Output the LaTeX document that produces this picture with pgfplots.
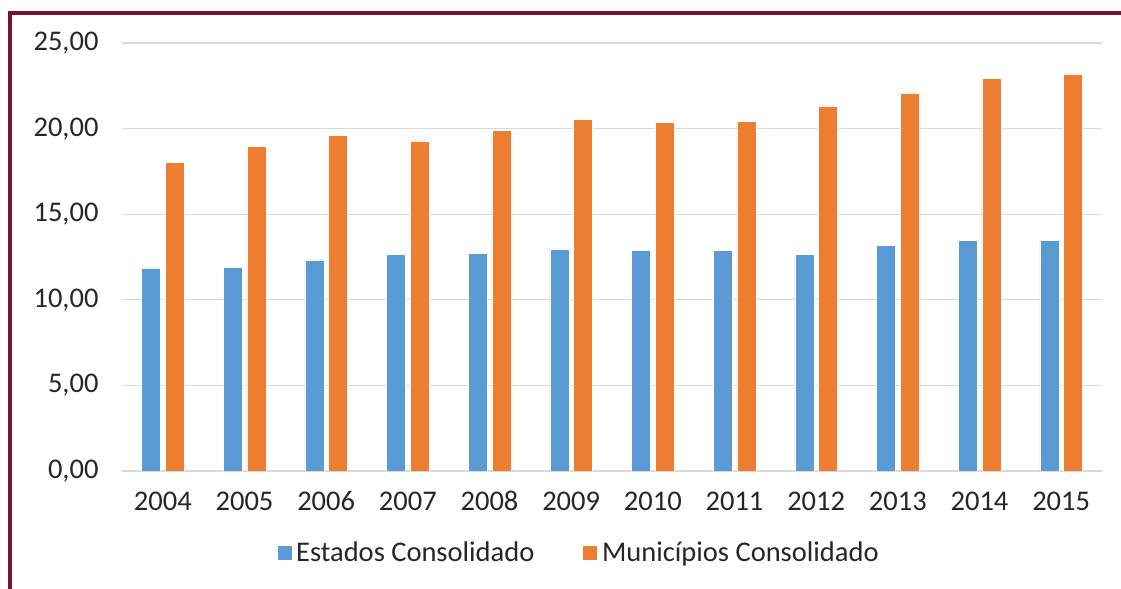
\documentclass[border=0pt]{standalone}
\usepackage{fontspec}
\setmainfont{Carlito}
\usepackage{pgfplots}
\pgfplotsset{compat=1.18}
\definecolor{bluebar}{HTML}{5B9BD5}
\definecolor{orangebar}{HTML}{ED7D31}
\definecolor{gridc}{HTML}{D9D9D9}
\definecolor{maroon}{HTML}{7A1035}
\definecolor{txt}{HTML}{262626}
\begin{document}
\begin{tikzpicture}[x=1bp,y=1bp]
\useasboundingbox (0,0) rectangle (1121,589);
\draw[maroon, line width=3.7bp] (10.3,-5) -- (10.3,589-13.2) -- (1130,589-13.2);
\begin{axis}[
  at={(122bp,118bp)}, anchor=south west,
  scale only axis, width=980bp, height=428bp,
  xmin=-0.5, xmax=11.5, ymin=0, ymax=25,
  ytick={0,5,...,25},
  xtick={0,...,11},
  xticklabels={2004,2005,2006,2007,2008,2009,2010,2011,2012,2013,2014,2015},
  axis line style={draw=none},
  major tick length=0pt,
  ymajorgrids, grid style={gridc, line width=1.3bp},
  extra y ticks={0}, extra y tick style={grid style={gridc,line width=1.5bp}},
  extra y tick labels={},
  /pgf/number format/.cd, fixed, fixed zerofill, precision=2, use comma, assume math mode=true,
  /pgfplots/.cd,
  tick label style={font=\fontsize{28.5bp}{32bp}\selectfont, text=txt},
  yticklabel style={xshift=-20bp},
  xticklabel style={yshift=-17bp},
  ybar, bar width=19bp,
  legend style={at={(0.467,-0.19)}, anchor=center, draw=none, legend columns=2,
    font=\fontsize{28.5bp}{32bp}\selectfont, text=txt,
    nodes={inner xsep=4bp},
    /tikz/every even column/.append style={column sep=44bp}},
  legend image code/.code={\fill[#1] (0bp,-8bp) rectangle (15bp,7bp);},
]
\addplot+[ybar, bar shift=-11.8bp, fill=bluebar, draw=white, line width=0.6bp] coordinates {
(0,11.86) (1,11.88) (2,12.33) (3,12.66) (4,12.72) (5,12.95) (6,12.90) (7,12.90) (8,12.66) (9,13.18) (10,13.47) (11,13.47)};
\addplot+[ybar, bar shift=11.8bp, fill=orangebar, draw=white, line width=0.6bp] coordinates {
(0,18.02) (1,18.98) (2,19.60) (3,19.28) (4,19.90) (5,20.56) (6,20.35) (7,20.43) (8,21.32) (9,22.08) (10,22.92) (11,23.20)};
\legend{Estados Consolidado, Municípios Consolidado}
\end{axis}
\end{tikzpicture}
\end{document}
